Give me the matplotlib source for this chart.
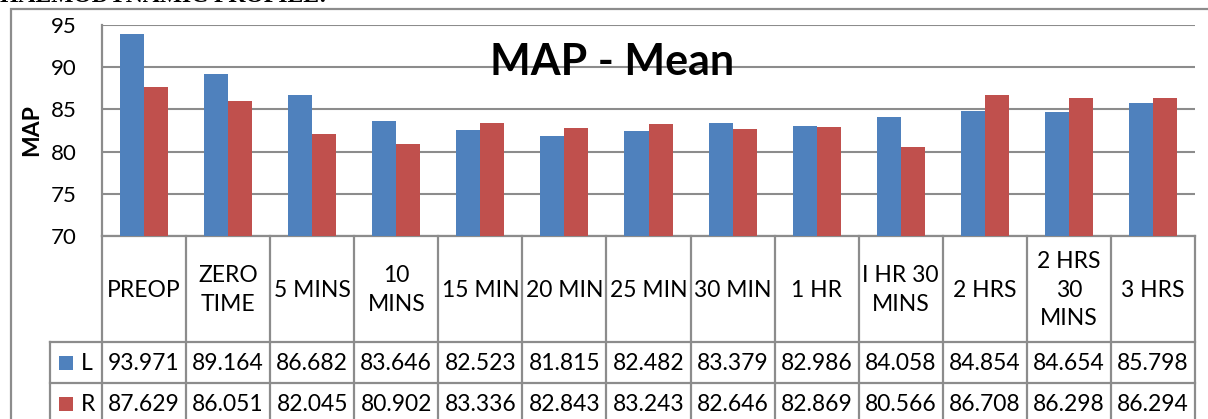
import matplotlib
matplotlib.use("Agg")
import matplotlib.pyplot as plt
from matplotlib.transforms import blended_transform_factory
from matplotlib.lines import Line2D
from matplotlib.patches import Rectangle

categories = ["PREOP", "ZERO\nTIME", "5 MINS", "10\nMINS", "15 MIN", "20 MIN", "25 MIN",
              "30 MIN", "1 HR", "I HR 30\nMINS", "2 HRS", "2 HRS\n30\nMINS", "3 HRS"]
series_names = ["L", "R"]
L_values = [93.971, 89.164, 86.682, 83.646, 82.523, 81.815, 82.482, 83.379, 82.986, 84.058, 84.854, 84.654, 85.798]
R_values = [87.629, 86.051, 82.045, 80.902, 83.336, 82.843, 83.243, 82.646, 82.869, 80.566, 86.708, 86.298, 86.294]
L_labels = ["93.971", "89.164", "86.682", "83.646", "82.523", "81.815", "82.482", "83.379", "82.986", "84.058", "84.854", "84.654", "85.798"]
R_labels = ["87.629", "86.051", "82.045", "80.902", "83.336", "82.843", "83.243", "82.646", "82.869", "80.566", "86.708", "86.298", "86.294"]
yticks = [70, 75, 80, 85, 90, 95]

W, H = 1208, 419
BLUE = "#4F81BD"
RED = "#C0504D"
GRID = "#8C8C8C"
FONT = ["Lato", "DejaVu Sans"]
FS = 16.5
plt.rcParams['font.family'] = FONT

fig = plt.figure(figsize=(W / 100, H / 100), dpi=100)

def fx(px):
    return px / W

def fy(py):
    return 1 - py / H

# outer chart border
fig.add_artist(Rectangle((fx(11), fy(440)), fx(1250), fy(9) - fy(440), transform=fig.transFigure,
                         fill=False, edgecolor=GRID, lw=1.6))

# clipped heading at top
fig.text(fx(0), fy(1.5), "HAEMODYNAMIC PROFILE:", family=["Liberation Serif"], weight="bold",
         fontsize=17, ha="left", va="baseline")

ax = fig.add_axes([fx(102), fy(236), fx(1195) - fx(102), fy(25) - fy(236)])
x = list(range(len(categories)))
bw = 0.2857
ax.bar([i - bw / 2 for i in x], L_values, width=bw, color=BLUE, zorder=3)
ax.bar([i + bw / 2 for i in x], R_values, width=bw, color=RED, zorder=3)
ax.set_xlim(-0.5, len(categories) - 0.5)
ax.set_ylim(70, 95)
ax.set_yticks(yticks)
ax.yaxis.grid(True, color=GRID, lw=1.5, zorder=0)
ax.set_axisbelow(True)
ax.tick_params(axis="y", length=0, pad=18, labelsize=16)
ax.tick_params(axis="x", length=0, labelbottom=False)
for s in ["top", "right"]:
    ax.spines[s].set_visible(False)
ax.spines["left"].set_color(GRID)
ax.spines["left"].set_linewidth(1.6)
ax.spines["bottom"].set_color(GRID)
ax.spines["bottom"].set_linewidth(1.6)
ax.set_ylabel("MAP", fontsize=16.5, weight="bold")
ax.yaxis.set_label_coords(fx(42 - 102) / (fx(1195) - fx(102)), 0.5)

fig.text(fx(612), fy(62), "MAP - Mean", fontsize=31, weight="bold", ha="center", va="center")

# data table
tr = blended_transform_factory(ax.transData, fig.transFigure)
n = len(categories)
for i in range(n + 1):
    fig.add_artist(Line2D([i - 0.5, i - 0.5], [fy(236), fy(430)], transform=tr, color=GRID, lw=1.6))
for py in [342, 383]:
    fig.add_artist(Line2D([fx(50), fx(1195)], [fy(py), fy(py)], transform=fig.transFigure, color=GRID, lw=1.6))
fig.add_artist(Line2D([fx(50), fx(50)], [fy(342), fy(430)], transform=fig.transFigure, color=GRID, lw=1.6))

for i, c in enumerate(categories):
    fig.text(i, fy(290), c, transform=tr, ha="center", va="center", fontsize=FS, linespacing=1.42)
    fig.text(i, fy(363), L_labels[i], transform=tr, ha="center", va="center", fontsize=FS)
    fig.text(i, fy(404), R_labels[i], transform=tr, ha="center", va="center", fontsize=FS)

for name, color, cy in [(series_names[0], BLUE, 363), (series_names[1], RED, 404)]:
    fig.add_artist(Rectangle((fx(59), fy(cy + 7)), fx(14), fy(cy - 7) - fy(cy + 7),
                             transform=fig.transFigure, facecolor=color, edgecolor="none"))
    fig.text(fx(81), fy(cy), name, ha="left", va="center", fontsize=FS)

fig.savefig("out.png", dpi=100)
